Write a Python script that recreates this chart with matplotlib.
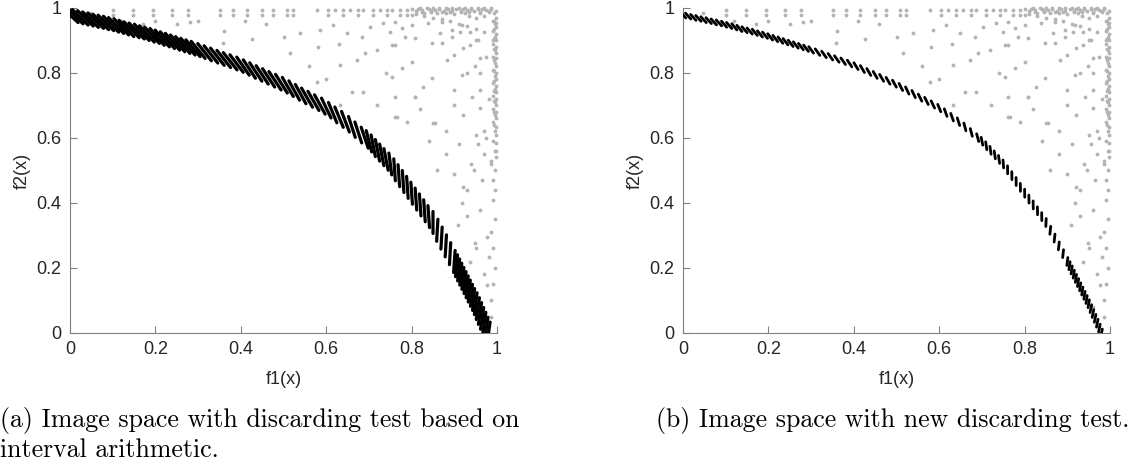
import numpy as np
import matplotlib.pyplot as plt
from matplotlib.collections import LineCollection

# points on the pareto front (shared by both panels)
front_x = [0, .012, .024, .036, .048, .06, .072, .084, .096, .108, .12, .132, .144, .156,
           .168, .18, .192, .204, .216, .228, .24, .252, .264, .276, .288, .3,
           .315, .33, .345, .36, .375, .39, .405, .42, .435, .45, .465, .48, .495, .51,
           .525, .54, .555, .57, .585, .6, .615, .63, .645, .66, .675, .69,
           .70, .71, .72, .73, .74, .75, .76, .77, .78, .79, .80, .81, .82, .83, .84,
           .85, .86, .87, .88, .89,
           .9, .905, .91, .915, .92, .925, .93, .935, .94, .945, .95, .955, .96, .965,
           .97, .975, .98]
front_y = [.978, .975, .971, .968, .964, .961, .957, .954, .950, .946, .942, .937, .933, .929,
           .925, .920, .916, .911, .906, .901, .896, .891, .886, .881, .876, .871,
           .864, .857, .850, .843, .836, .829, .821, .812, .803, .794, .785, .776, .767, .757,
           .746, .735, .724, .714, .703, .692, .678, .664, .650, .634, .617, .601,
           .590, .576, .562, .548, .534, .520, .502, .484, .466, .448, .430, .412, .394, .376, .358,
           .340, .316, .292, .268, .244,
           .220, .207, .194, .181, .168, .155, .142, .129, .116, .103, .090, .075, .060, .045,
           .030, .015, .000]

# discarded boxes (grey), same in both panels
grey_x = [.047, .101, .101, .148, .148, .195, .195, .238, .238, .277, .277, .351, .351, .382, .382,
          .414, .414, .449, .449, .476, .476, .507, .507, .523, .523, .578, .605, .605, .62, .64,
          .64, .656, .675, .675, .687, .71, .71, .726, .742, .742, .754, .773, .773, .789, .789,
          .80, .81, .815, .825, .83, .84, .845, .855, .86, .865, .875, .88, .885, .895, .9, .905,
          .915, .92, .925, .93, .935, .94, .945, .95, .955, .96, .965, .97, .975, .98, .985, .99,
          .81, .83, .85, .87, .89, .91, .93, .95, .97, .99,
          .995, .99, .995, .99, .995, .99, .995, .99, .995, .99, .995, .99, .995, .99, .995, .99,
          .995, .99, .995, .985, .995, .99, .995, .99, .995, .985, .99, .995, .99, .985,
          .734, .761, .80, .749, .777, .80, .839, .87, .808, .867, .894, .917, .761, .785, .847,
          .87, .894, .913, .937, .753, .777, .80, .827, .847, .882, .898, .921, .937, .956,
          .917, .898, .948, .96, .808, .761, .855, .921, .941, .96, .96,
          .917, .96, .948, .976, .909, .937, .98, .976, .281, .359, .426,
          .539, .515, .585, .616, .648, .632, .671, .683, .703, .718, .753, .578, .687, .761,
          .632, .808, .765, .851, .955, .97, .945, .965, .93, .975, .985, .95,
          .56, .6, .66, .72, .79, .84, .88, .9, .92, .88, .82, .74, .69, .63, .58, .5, .46, .41,
          .36, .3, .25, .2, .17, .12, .93, .95, .97, .96, .985, .94, .91, .86, .97, .98, .96,
          .975, .95, .93, .9,
          .998, .998, .998, .998, .998, .998, .998, .998, .998, .998, .998, .998, .998, .998,
          .998, .998, .998, .998, .998, .998, .998, .998, .998, .992, .992, .992, .992, .992,
          .992, .992, .992, .992, .992, .992, .992,
          .82, .835, .85, .865, .88, .895, .91, .925, .94, .955, .97, .985, .825, .845, .87,
          .89, .915, .935, .96, .98]
grey_y = [.985, .994, .978, .994, .978, .994, .978, .994, .978, .994, .978, .994, .978, .994, .978,
          .994, .978, .994, .978, .994, .978, .994, .978, .994, .978, .994, .994, .978, .994, .994,
          .978, .994, .994, .978, .994, .994, .978, .994, .994, .978, .994, .994, .978, .994, .978,
          .996, .99, .998, .993, .985, .997, .99, .995, .985, .998, .992, .983, .997, .99, .98, .996,
          .99, .998, .985, .994, .975, .998, .99, .97, .996, .985, .998, .975, .993, .99, .998, .96,
          .98, .975, .97, .965, .96, .95, .945, .935, .925, .9,
          .95, .93, .91, .89, .87, .85, .83, .81, .79, .77, .75, .73, .71, .69, .67, .65,
          .62, .59, .56, .53, .5, .47, .44, .41, .35, .31, .26, .2, .15, .1,
          .953, .958, .978, .927, .937, .948, .953, .958, .907, .922, .932, .948, .886, .912, .891,
          .891, .912, .927, .927, .789, .815, .835, .758, .784, .84, .855, .876, .886, .902,
          .794, .748, .82, .845, .727, .666, .645, .671, .727, .748, .691,
          .399, .378, .276, .296, .332, .219, .235, .148, .958, .892, .904,
          .922, .862, .932, .948, .922, .825, .84, .912, .942, .871, .886, .773, .742, .727,
          .702, .727, .666, .645, .58, .55, .5, .47, .44, .6, .52, .61,
          .82, .78, .74, .7, .65, .59, .55, .49, .45, .62, .69, .8, .86, .89, .88, .91, .95, .96,
          .93, .96, .95, .96, .95, .96, .36, .26, .18, .08, .05, .52, .58, .5, .62, .72, .8,
          .85, .9, .8, .7,
          .99, .97, .955, .94, .92, .9, .88, .86, .845, .82, .8, .78, .76, .74, .72, .7, .68,
          .66, .635, .61, .585, .56, .54, .985, .96, .935, .905, .875, .84, .805, .775, .745,
          .715, .68, .64,
          .999, .999, .999, .999, .999, .999, .999, .999, .999, .999, .999, .999, .989, .989,
          .989, .989, .989, .989, .989, .989]

tick_vals = [0, 0.2, 0.4, 0.6, 0.8, 1]
tick_text = ['0', '0.2', '0.4', '0.6', '0.8', '1']


def draw_dashes(ax, xs, ys, length, turn, lw):
    # short bars around each front point, tilted steeper than the front itself
    fig = ax.figure
    bb = ax.get_position()
    sx = bb.width * fig.get_figwidth() * fig.dpi
    sy = bb.height * fig.get_figheight() * fig.dpi
    x = np.array(xs); y = np.array(ys)
    ang = np.arctan2(np.gradient(y * sy), np.gradient(x * sx)) - np.deg2rad(turn)
    dx = 0.5 * length * np.cos(ang) / sx
    dy = 0.5 * length * np.sin(ang) / sy
    segs = [[(x[i] - dx[i], y[i] - dy[i]), (x[i] + dx[i], y[i] + dy[i])] for i in range(len(x))]
    ax.add_collection(LineCollection(segs, colors='k', linewidths=lw, capstyle='round', zorder=3))


def style(ax):
    ax.set_xlim(0, 1); ax.set_ylim(0, 1)
    for s in ['top', 'right']:
        ax.spines[s].set_visible(False)
    for s in ['left', 'bottom']:
        ax.spines[s].set_color('#808080')
    ax.set_xticks(tick_vals); ax.set_xticklabels(tick_text)
    ax.set_yticks(tick_vals); ax.set_yticklabels(tick_text)
    ax.tick_params(direction='in', length=5, color='#808080', labelcolor='#262626', labelsize=13, pad=6)
    ax.set_xlabel('f1(x)', fontsize=13, color='#262626', labelpad=9)
    ax.set_ylabel('f2(x)', fontsize=13, color='#262626', labelpad=4)


plt.rcParams['font.family'] = ['Liberation Sans', 'DejaVu Sans']
fig = plt.figure(figsize=(11.39, 4.65), dpi=100)
ax1 = fig.add_axes([0.0615, 0.2839, 0.3749, 0.699])
ax2 = fig.add_axes([0.5997, 0.2839, 0.3749, 0.699])

for ax in [ax1, ax2]:
    ax.plot(grey_x, grey_y, '.', color='#b4b4b4', markersize=3.5, clip_on=False)
    style(ax)

draw_dashes(ax1, front_x, front_y, 22, 32, 2.3)
draw_dashes(ax2, front_x, front_y, 8, 35, 2.0)

fig.text(0.0, 0.082, '(a) Image space with discarding test based on', family='cmr10', fontsize=18.6,
         va='baseline')
fig.text(0.0, 0.017, 'interval arithmetic.', family='cmr10', fontsize=18.6, va='baseline')
fig.text(0.784, 0.082, '(b) Image space with new discarding test.', family='cmr10', fontsize=18.6,
         va='baseline', ha='center')

fig.savefig('out.png', dpi=100)
